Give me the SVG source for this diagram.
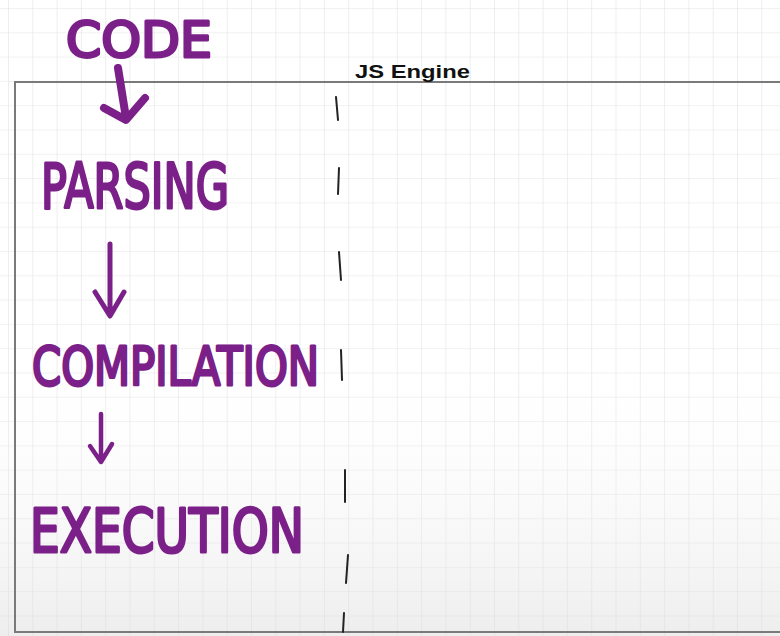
<svg xmlns="http://www.w3.org/2000/svg" width="780" height="636" viewBox="0 0 780 636">
<defs>
<pattern id="grid" x="8" y="8" width="24.3" height="24.3" patternUnits="userSpaceOnUse">
<path d="M0 0H24.3M0 0V24.3" fill="none" stroke="#e3e3e3" stroke-width="1.2"/>
</pattern>
<linearGradient id="shade" x1="0" y1="0" x2="0" y2="1">
<stop offset="0.55" stop-color="#ffffff" stop-opacity="0"/>
<stop offset="1" stop-color="#d8d8d8" stop-opacity="0.45"/>
</linearGradient>
<style>
.hand{font-family:"DejaVu Sans",sans-serif;font-weight:normal;fill:#7b2088;stroke:#7b2088;stroke-width:3;stroke-linejoin:round;stroke-linecap:round}
.arr{fill:none;stroke:#7b2088;stroke-linecap:round;stroke-linejoin:round}
.dash{stroke:#222;stroke-width:2;stroke-linecap:round}
.frame{fill:none;stroke:#7a7a7a;stroke-width:2}
</style>
</defs>
<rect width="780" height="636" fill="#ffffff"/>
<rect width="780" height="636" fill="url(#grid)"/>
<rect width="780" height="636" fill="url(#shade)"/>
<g id="engine">
<path class="frame" d="M780 82H15V632H780"/>
<text x="355" y="78" font-family="Liberation Sans, Arial, sans-serif" font-weight="bold" font-size="18" fill="#111" textLength="115" lengthAdjust="spacingAndGlyphs">JS Engine</text>
<g id="divider">
<line class="dash" x1="336" y1="97" x2="338" y2="120"/>
<line class="dash" x1="339" y1="168" x2="338" y2="194"/>
<line class="dash" x1="339" y1="252" x2="341" y2="280"/>
<line class="dash" x1="341" y1="350" x2="342" y2="380"/>
<line class="dash" x1="345" y1="470" x2="345" y2="502"/>
<line class="dash" x1="348" y1="555" x2="346" y2="583"/>
<line class="dash" x1="344" y1="613" x2="343" y2="632"/>
</g>
</g>
<g id="code"><text class="hand" x="66" y="57" font-size="50" stroke-width="5" textLength="146" lengthAdjust="spacingAndGlyphs">CODE</text></g>
<g id="parsing"><text class="hand" x="41" y="208" font-size="62" textLength="188" lengthAdjust="spacingAndGlyphs">PARSING</text></g>
<g id="compilation"><text class="hand" x="32" y="385" font-size="54" textLength="287" lengthAdjust="spacingAndGlyphs">COMPILATION</text></g>
<g id="execution"><text class="hand" x="30" y="552" font-size="60" stroke-width="4" textLength="274" lengthAdjust="spacingAndGlyphs">EXECUTION</text></g>
<g id="connectors">
<path class="arr" stroke-width="8" d="M118 68L126 118M104 108L126 120L145 98"/>
<path class="arr" stroke-width="5" d="M110 244L110 314M95 292L110 316L124 292"/>
<path class="arr" stroke-width="4.5" d="M101 414L101 460M90 446L101 462L112 444"/>
</g>
</svg>
